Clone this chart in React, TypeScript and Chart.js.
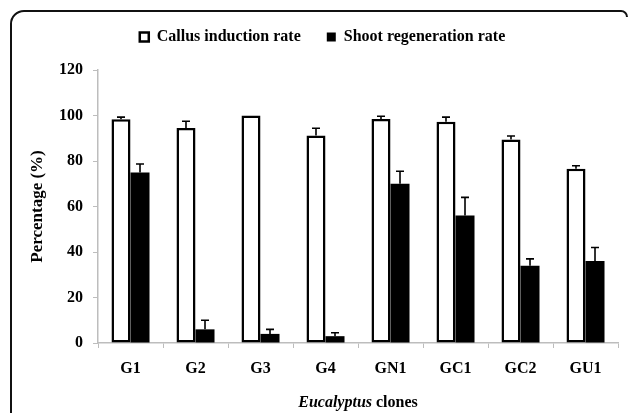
import React, { useEffect, useRef } from "react";
import { Chart, registerables } from "chart.js";

Chart.register(...registerables);

const categories = ["G1", "G2", "G3", "G4", "GN1", "GC1", "GC2", "GU1"];
const callusRate = [98.3, 94.5, 100, 91.2, 98.5, 97.3, 89.5, 76.6];
const callusErr = [1.0, 3.0, 0, 3.2, 1.2, 2.0, 1.5, 1.3];
const shootRate = [75, 6, 4, 3, 70, 56, 34, 36];
const shootErr = [3.7, 4, 2, 1.5, 5.5, 8, 3, 6];
const seriesNames = ["Callus induction rate", "Shoot regeneration rate"];
const yMin = 0;
const yMax = 120;
const yStep = 20;
const xTitleItalic = "Eucalyptus";
const xTitleRest = " clones";
const yTitle = "Percentage (%)";

const FONT = "'Liberation Serif', 'Times New Roman', serif";
const AXIS_GRAY = "#bdbdbd";

const errorBarsPlugin = {
  id: "errorBars",
  afterDatasetsDraw(chart: any) {
    const ctx = chart.ctx;
    const y = chart.scales.y;
    const errs = [callusErr, shootErr];
    chart.data.datasets.forEach((ds: any, di: number) => {
      const meta = chart.getDatasetMeta(di);
      meta.data.forEach((el: any, i: number) => {
        const e = errs[di][i];
        if (!e) return;
        const top = y.getPixelForValue(ds.data[i] + e);
        ctx.save();
        ctx.strokeStyle = "#000";
        ctx.lineWidth = 1.6;
        ctx.beginPath();
        ctx.moveTo(el.x, el.y);
        ctx.lineTo(el.x, top);
        ctx.moveTo(el.x - 4, top);
        ctx.lineTo(el.x + 4, top);
        ctx.stroke();
        ctx.restore();
      });
    });
  },
};

const framePlugin = {
  id: "frame",
  beforeDraw(chart: any) {
    const ctx = chart.ctx;
    ctx.save();
    ctx.strokeStyle = "#111";
    ctx.lineWidth = 2;
    ctx.beginPath();
    ctx.moveTo(11, 420);
    ctx.lineTo(11, 24);
    ctx.arcTo(11, 11, 24, 11, 13);
    ctx.lineTo(620, 11);
    ctx.arcTo(627, 11, 627, 18, 6);
    ctx.stroke();
    ctx.restore();
  },
};

const xTitlePlugin = {
  id: "xTitle",
  afterDraw(chart: any) {
    const ctx = chart.ctx;
    const area = chart.chartArea;
    const cx = (area.left + area.right) / 2;
    const y = 403;
    ctx.save();
    ctx.fillStyle = "#000";
    ctx.textBaseline = "middle";
    ctx.textAlign = "left";
    const fItalic = `italic bold 16px ${FONT}`;
    const fBold = `bold 16px ${FONT}`;
    ctx.font = fItalic;
    const w1 = ctx.measureText(xTitleItalic).width;
    ctx.font = fBold;
    const w2 = ctx.measureText(xTitleRest).width;
    const x0 = cx - (w1 + w2) / 2;
    ctx.font = fItalic;
    ctx.fillText(xTitleItalic, x0, y);
    ctx.font = fBold;
    ctx.fillText(xTitleRest, x0 + w1, y);
    ctx.restore();
  },
};

const legendSpacerPlugin = {
  id: "legendSpacer",
  beforeLayout(chart: any) {
    const lg = chart.legend;
    if (lg && !lg.__patched) {
      const orig = lg.fit;
      lg.fit = function () {
        orig.call(this);
        this.height += 15;
      };
      lg.__patched = true;
    }
  },
};

export default function App() {
  const ref = useRef<HTMLCanvasElement | null>(null);

  useEffect(() => {
    if (!ref.current) return;
    const chart = new Chart(ref.current, {
      type: "bar",
      data: {
        labels: categories,
        datasets: [
          {
            label: seriesNames[0],
            data: callusRate,
            backgroundColor: "#ffffff",
            borderColor: "#000000",
            borderWidth: 2.5,
            borderSkipped: false,
          },
          {
            label: seriesNames[1],
            data: shootRate,
            backgroundColor: "#000000",
            borderColor: "#000000",
            borderWidth: 0,
          },
        ],
      },
      options: {
        animation: false,
        responsive: true,
        maintainAspectRatio: false,
        datasets: {
          bar: {
            categoryPercentage: 0.585,
            barPercentage: 1.0,
          },
        },
        layout: {
          padding: { top: 3, left: 27, right: 10, bottom: 0 },
        },
        plugins: {
          tooltip: { enabled: false },
          legend: {
            display: true,
            position: "top",
            labels: {
              color: "#000",
              font: { family: FONT, size: 16, weight: "bold" },
              boxWidth: 9,
              boxHeight: 9,
              padding: 26,
            },
          },
        },
        scales: {
          x: {
            grid: {
              display: true,
              drawOnChartArea: false,
              drawTicks: true,
              tickLength: 5,
              color: AXIS_GRAY,
              offset: true,
            },
            border: { display: true, color: AXIS_GRAY, width: 1.5 },
            ticks: {
              color: "#000",
              font: { family: FONT, size: 16, weight: "bold" },
              padding: 11,
              maxRotation: 0,
            },
            afterFit(scale: any) {
              scale.height = 70;
            },
          },
          y: {
            min: yMin,
            max: yMax,
            grid: {
              display: true,
              drawOnChartArea: false,
              drawTicks: true,
              tickLength: 5,
              color: AXIS_GRAY,
            },
            border: { display: true, color: AXIS_GRAY, width: 1.5 },
            ticks: {
              stepSize: yStep,
              color: "#000",
              font: { family: FONT, size: 16, weight: "bold" },
              padding: 10,
            },
            title: {
              display: true,
              text: yTitle,
              color: "#000",
              font: { family: FONT, size: 17, weight: "bold" },
              padding: { top: 0, bottom: 0 },
            },
            afterFit(scale: any) {
              scale.width = 71;
            },
          },
        },
      },
      plugins: [legendSpacerPlugin, framePlugin, errorBarsPlugin, xTitlePlugin],
    } as any);
    return () => chart.destroy();
  }, []);

  return (
    <div style={{ position: "fixed", left: 0, top: 0, width: 628, height: 413 }}>
      <canvas ref={ref} />
    </div>
  );
}
